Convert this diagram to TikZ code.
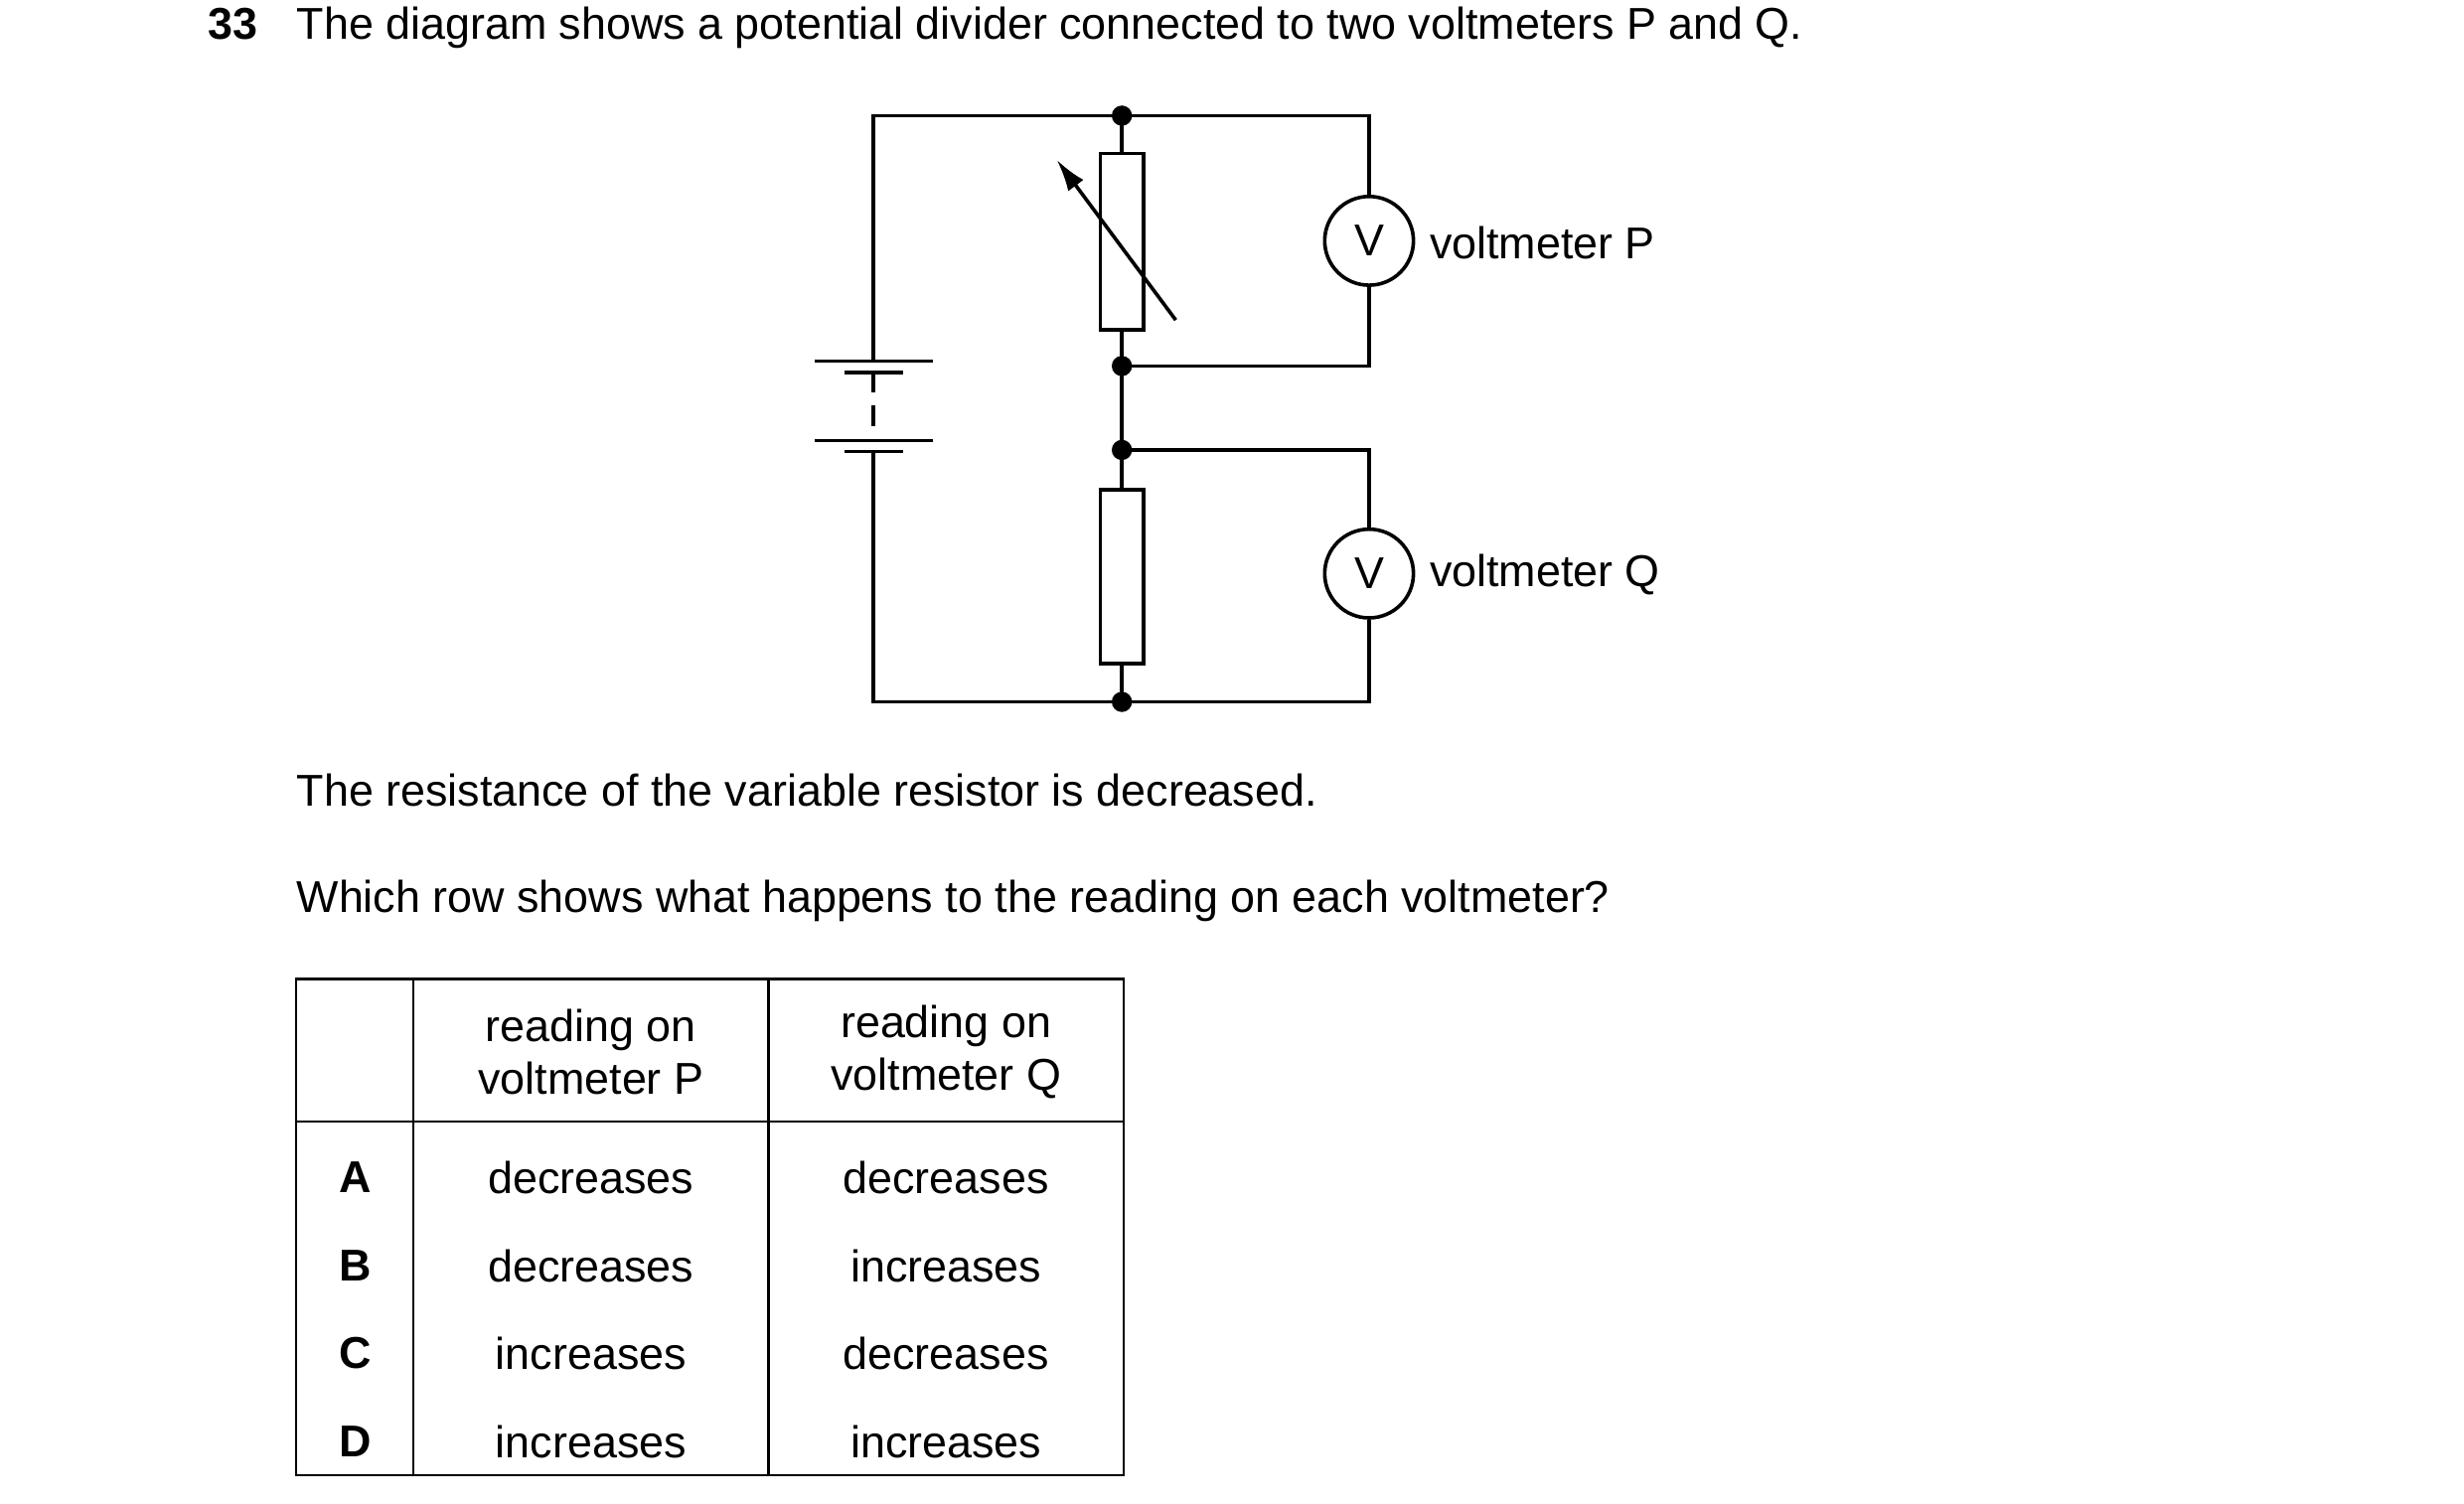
\documentclass[tikz,border=0pt]{standalone}
\usepackage{fontspec}
\setmainfont{Liberation Sans}
\usetikzlibrary{arrows.meta}
\begin{document}
\begin{tikzpicture}[x=0.025cm,y=-0.025cm,
  w/.style={line width=1.6pt},
  dot/.style={circle,fill=black,inner sep=0pt,minimum size=0.32cm},
  txt/.style={font=\fontsize{20}{24}\selectfont,inner sep=0pt},
  tab/.style={line width=1.1pt}]
\useasboundingbox (0,0) rectangle (1555,949);
% wires
\coordinate (tl) at (551,73); \coordinate (bl) at (551,443);
\coordinate (tr) at (864,73); \coordinate (br) at (864,443);
\node[dot] (d1) at (708,73) {};
\node[dot] (d2) at (708,231) {};
\node[dot] (d3) at (708,284) {};
\node[dot] (d4) at (708,443) {};
\coordinate (p2) at (864,231); \coordinate (q1) at (864,284);
\node[draw,w,circle,minimum size=1.4cm,inner sep=0pt,txt] (vp) at (864,152) {V};
\node[draw,w,circle,minimum size=1.4cm,inner sep=0pt,txt] (vq) at (864,362) {V};
\node[draw,w,minimum width=0.675cm,minimum height=2.78cm,inner sep=0pt] (r1) at (708,152.5) {};
\node[draw,w,minimum width=0.675cm,minimum height=2.75cm,inner sep=0pt] (r2) at (708,364) {};
\coordinate (b1) at (551,228); \coordinate (b2) at (551,235);
\coordinate (b3) at (551,278); \coordinate (b4) at (551,285);
\draw[w] (b1) -- (tl) -- (d1.center) -- (tr) -- (vp.north);
\draw[w] (vp.south) -- (p2) -- (d2.center);
\draw[w] (d1.center) -- (r1.north); \draw[w] (r1.south) -- (d2.center) -- (d3.center) -- (r2.north);
\draw[w] (d3.center) -- (q1) -- (vq.north);
\draw[w] (vq.south) -- (br) -- (d4.center) -- (bl) -- (b4);
\draw[w] (r2.south) -- (d4.center);
% battery
\draw[w] (514,228) -- (589,228);
\draw[w] (533,235) -- (570,235);
\draw[w] (514,278) -- (589,278);
\draw[w] (533,285) -- (570,285);
\draw[w,dash pattern=on 9pt off 6pt] (b2) -- (b3);
% variable arrow
\coordinate (a1) at (742,202); \coordinate (a2) at (667,101);
\draw[w,-{Latex[length=0.5cm,width=0.3cm]}] (a1) -- (a2);
\node[txt,anchor=west] (lp) at (902,153) {voltmeter P};
\node[txt,anchor=west] (lq) at (902,363) {voltmeter Q};
% texts
\node[txt,anchor=base west] (n33) at (131,25) {\textbf{33}};
\node[txt,anchor=base west] (q) at (187,25) {The diagram shows a potential divider connected to two voltmeters P and Q.};
\node[txt,anchor=base west] (t1) at (187,509) {The resistance of the variable resistor is decreased.};
\node[txt,anchor=base west] (t2) at (187,576) {Which row shows what happens to the reading on each voltmeter?};
% table
\draw[tab] (187,618) rectangle (709,931);
\draw[tab] (261,618) -- (261,931); \draw[tab] (485,618) -- (485,931);
\draw[tab] (187,708) -- (709,708);
\node[txt,align=center] (h1) at (373,664) {reading on\\voltmeter P};
\node[txt,align=center] (h2) at (597,664) {reading on\\voltmeter Q};
\foreach \l/\p/\q/\y in {A/decreases/decreases/743,B/decreases/increases/799,C/increases/decreases/854,D/increases/increases/910}{
  \node[txt] at (224,\y) {\textbf{\l}};
  \node[txt] at (373,\y) {\p};
  \node[txt] at (597,\y) {\q};
}
\end{tikzpicture}
\end{document}
